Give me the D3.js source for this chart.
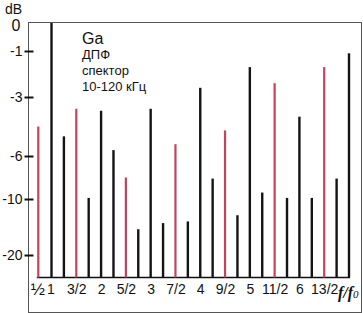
<!DOCTYPE html>
<meta charset="utf-8">
<style>
    body { margin: 0; background: #fff; }
    text { font-family: "Liberation Sans", Arial, sans-serif; fill: #111; }
    .frame { fill: none; stroke: #555; stroke-width: 1; }
    .bar { stroke-width: 2.4; }
    .bar.half { stroke: #c6415d; stroke-width: 2.2; }
    .bar.whole { stroke: #141414; }
    .axis .domain { display: none; }
</style>
<body></body>
<script src="https://d3js.org/d3.v7.min.js"></script>
<script>
    // spectrum lines: f/f0 and level in dB
    const freqs = [0.5, 1, 1.25, 1.5, 1.75, 2, 2.25, 2.5, 2.75, 3, 3.25, 3.5, 3.75,
                   4, 4.25, 4.5, 4.75, 5, 5.25, 5.5, 5.75, 6, 6.25, 6.5, 6.75, 7];
    const levels = [-4.5, 0, -5.0, -3.6, -9.9, -3.7, -5.7, -8.0, -15.4, -3.6, -14.3, -5.4, -14.0,
                    -2.6, -8.1, -4.7, -12.9, -1.7, -9.4, -2.4, -9.9, -4.0, -9.9, -1.7, -8.1, -1.1];

    const xTicks = [0.5, 1, 1.5, 2, 2.5, 3, 3.5, 4, 4.5, 5, 5.5, 6, 6.5];
    const xLabels = ["½", "1", "3/2", "2", "5/2", "3", "7/2", "4", "9/2", "5", "11/2", "6", "13/2"];
    const yTicks = [0, -1, -3, -6, -10, -20];
    const yLabels = ["0", "-1", "-3", "-6", "-10", "-20"];
    const noteLines = ["ДПФ", "спектор", "10-120 кГц"];

    const W = 363, H = 313;
    const floorDb = -40; // bottom of the bars

    // x: the 1/2 line is squeezed in next to 1, the rest is linear
    const x = d3.scaleLinear().domain([0.5, 1, 7]).range([38.3, 51.5, 349]);
    // y: the dB axis of the original is not linear, piecewise through its ticks
    const y = d3.scaleLinear()
        .domain([0, -1, -3, -6, -10, -20, floorDb])
        .range([23, 51, 97, 156, 199, 255, 277.5]);

    const svg = d3.select("body").append("svg")
        .attr("width", W)
        .attr("height", H);

    // frame
    svg.append("rect").attr("class", "frame")
        .attr("x", 28.5).attr("y", 22.5)
        .attr("width", 333).attr("height", 290);

    // y axis
    const yAxis = svg.append("g")
        .attr("class", "axis")
        .attr("transform", "translate(28.5,0)")
        .call(d3.axisLeft(y).tickValues(yTicks).tickSize(4).tickPadding(2)
            .tickFormat((d, i) => yLabels[i]));
    yAxis.selectAll(".tick line")
        .attr("x1", -4).attr("x2", 5)
        .attr("stroke", "#111").attr("stroke-width", 2)
        .attr("display", d => d === 0 ? "none" : null);
    yAxis.selectAll(".tick text")
        .style("font-size", d => d === 0 ? "16px" : "14px")
        .attr("font-family", null)
        .attr("dy", d => d === 0 ? "0.45em" : "0.35em")
        .attr("x", d => d === 0 ? -8 : -6);

    svg.append("text")
        .attr("x", 5).attr("y", 13.5)
        .style("font-size", "14px")
        .text("dB");

    // baseline
    svg.append("line")
        .attr("x1", x(0.5) - 1.5).attr("x2", x(7) + 1)
        .attr("y1", y(floorDb)).attr("y2", y(floorDb))
        .attr("stroke", "#111").attr("stroke-width", 1.6);

    // spectral lines
    svg.selectAll(".bar")
        .data(freqs.map((f, i) => ({f: f, db: levels[i]})))
        .enter().append("line")
        .attr("class", d => "bar " + (d.f % 1 === 0.5 ? "half" : "whole"))
        .attr("x1", d => x(d.f)).attr("x2", d => x(d.f))
        .attr("y1", y(floorDb))
        .attr("y2", d => y(d.db));

    // x axis labels
    const xAxis = svg.append("g")
        .attr("class", "axis")
        .attr("transform", "translate(0," + (y(floorDb) + 1) + ")")
        .call(d3.axisBottom(x).tickValues(xTicks).tickSize(0).tickPadding(6)
            .tickFormat((d, i) => xLabels[i]));
    xAxis.selectAll(".tick text")
        .attr("font-family", null)
        .style("font-size", d => d === 0.5 ? "17px" : "14px")
        .attr("x", d => d === 0.5 ? -1 : (d === 1 ? -1 : 0))
        .attr("dy", d => d === 0.5 ? "0.62em" : "0.71em");

    // f/f0
    const fl = svg.append("text")
        .attr("x", 338).attr("y", 298)
        .style("font-family", "'Liberation Serif', serif")
        .style("font-style", "italic")
        .style("font-weight", "bold")
        .style("font-size", "16px")
        .text("f/f");
    fl.append("tspan")
        .style("font-size", "11px")
        .style("font-weight", "normal")
        .text("0");

    // annotation
    svg.append("text")
        .attr("x", 82).attr("y", 43.5)
        .style("font-size", "16px")
        .text("Ga");
    svg.selectAll(".note")
        .data(noteLines)
        .enter().append("text")
        .attr("class", "note")
        .attr("x", 82)
        .attr("y", (d, i) => 58.5 + i * 16)
        .style("font-size", "13px")
        .text(d => d);
</script>
